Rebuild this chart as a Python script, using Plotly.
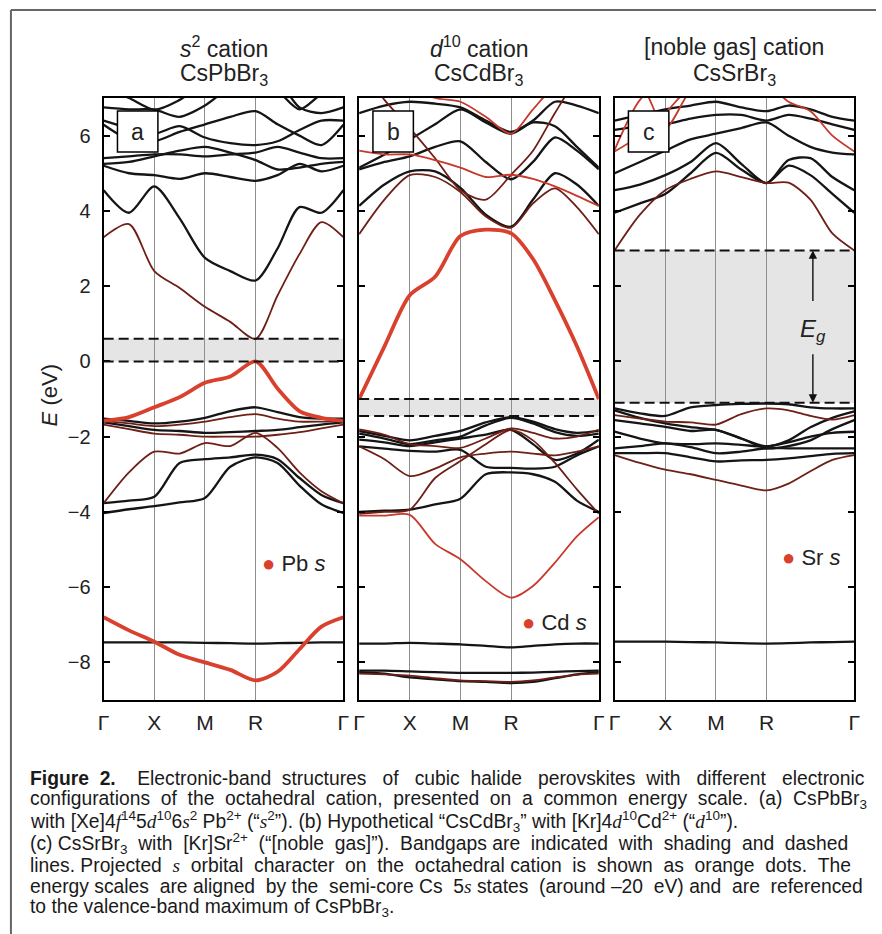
import plotly.graph_objects as go

# ---------------- data ----------------
# k-path segment lengths (units of 2*pi/a): Γ-X, X-M, M-R, R-Γ
SEG_LEN = [0.5, 0.5, 0.5, 0.866]
K_LABELS = ["Γ", "X", "M", "R", "Γ"]
# sampling fractions along each segment
SEG_FRACS = [[0.0, 0.5, 1.0], [0.5, 1.0], [0.5, 1.0], [0.25, 0.5, 0.75, 1.0]]

E_TICKS = [-8, -6, -4, -2, 0, 2, 4, 6]
E_TICK_TEXT = ["−8", "−6", "−4", "−2", "0", "2", "4", "6"]
E_RANGE = [-9, 7]

# band energies (eV) at the sampled k-points: Γ, .25, X, .75, M, 1.25, R, R+¼, R+½, R+¾, Γ
# character: b = no s, m = weak s, t = moderate s, s = strong s
PB_BANDS = [
    [3.30, 3.65, 2.40, 1.95, 1.45, 1.05, 0.60, 1.75, 2.85, 3.70, 3.30],
    [4.55, 3.95, 4.65, 3.80, 2.75, 2.40, 2.15, 3.00, 4.10, 3.95, 4.55],
    [5.20, 5.00, 4.95, 4.85, 5.00, 4.90, 4.80, 4.95, 5.25, 5.05, 5.20],
    [5.25, 5.30, 5.45, 5.60, 5.70, 5.55, 5.35, 5.10, 5.15, 5.25, 5.30],
    [5.40, 5.45, 5.50, 5.50, 5.45, 5.50, 5.55, 5.70, 5.55, 5.40, 5.40],
    [6.29, 5.90, 5.85, 6.10, 6.30, 6.50, 6.65, 6.30, 6.00, 5.75, 6.29],
    [6.40, 6.20, 6.05, 6.25, 5.95, 5.80, 5.75, 5.85, 6.15, 6.40, 6.40],
    [6.75, 6.70, 6.69, 6.50, 6.80, 7.30, 7.60, 7.20, 6.70, 7.10, 7.30],
    [7.30, 7.00, 6.69, 6.95, 7.40, 7.60, 7.80, 7.50, 6.75, 6.60, 6.75],
    [-1.52, -1.58, -1.65, -1.60, -1.50, -1.32, -1.22, -1.35, -1.48, -1.52, -1.52],
    [-1.58, -1.65, -1.72, -1.68, -1.60, -1.48, -1.40, -1.52, -1.60, -1.60, -1.58],
    [-1.62, -1.72, -1.82, -1.85, -1.90, -1.88, -1.85, -1.82, -1.75, -1.68, -1.62],
    [-1.68, -1.80, -1.92, -1.95, -2.00, -2.00, -2.00, -1.95, -1.88, -1.78, -1.68],
    [-3.77, -2.95, -2.40, -2.45, -2.17, -2.25, -1.90, -2.30, -2.95, -3.45, -3.77],
    [-3.77, -3.70, -3.60, -2.70, -2.60, -2.55, -2.48, -2.60, -3.10, -3.55, -3.77],
    [-4.03, -3.93, -3.85, -3.75, -3.63, -2.80, -2.55, -2.70, -3.30, -3.80, -4.03],
    [-7.47, -7.47, -7.47, -7.47, -7.48, -7.49, -7.50, -7.49, -7.48, -7.47, -7.47],
    [-1.58, -1.48, -1.22, -0.95, -0.57, -0.40, 0.00, -0.72, -1.32, -1.50, -1.58],
    [-6.80, -7.15, -7.45, -7.80, -8.00, -8.20, -8.48, -8.25, -7.65, -7.05, -6.80],
]
PB_CHAR = ["m", "b", "b", "b", "b", "b", "b", "b", "b",
           "b", "m", "b", "m", "m", "b", "b", "b", "s", "s"]

CD_BANDS = [
    [3.38, 4.30, 4.95, 4.90, 4.50, 3.85, 3.55, 4.20, 4.60, 4.10, 3.38],
    [4.13, 4.70, 5.05, 5.05, 4.61, 3.90, 3.58, 4.30, 5.00, 4.70, 4.13],
    [5.10, 5.30, 5.45, 5.70, 5.85, 5.30, 4.84, 5.30, 5.95, 5.60, 5.10],
    [5.15, 5.50, 5.90, 6.30, 6.70, 6.35, 6.05, 6.35, 6.25, 5.70, 5.15],
    [6.60, 6.80, 6.90, 6.85, 6.75, 6.40, 6.10, 6.40, 6.90, 6.80, 6.60],
    [5.60, 5.50, 5.50, 5.35, 5.15, 4.90, 4.96, 4.85, 4.65, 4.40, 4.13],
    [7.90, 6.95, 6.20, 5.40, 4.55, 4.30, 4.96, 5.60, 6.60, 7.50, 8.00],
    [7.50, 7.40, 7.30, 7.00, 6.90, 6.50, 6.05, 6.70, 7.30, 7.40, 7.50],
    [-1.85, -1.98, -2.10, -1.98, -1.85, -1.62, -1.48, -1.60, -1.80, -1.90, -1.85],
    [-1.92, -2.05, -2.20, -2.10, -2.00, -1.70, -1.50, -1.65, -1.88, -1.98, -1.92],
    [-1.81, -1.95, -2.20, -2.25, -2.30, -2.05, -1.78, -1.90, -2.05, -2.00, -1.81],
    [-2.08, -2.15, -2.25, -2.15, -2.05, -1.95, -1.82, -2.20, -2.62, -2.45, -2.08],
    [-2.26, -2.32, -2.38, -2.40, -2.35, -2.80, -2.83, -2.85, -2.80, -2.50, -2.26],
    [-2.26, -2.60, -3.05, -2.85, -2.55, -2.45, -2.40, -2.45, -2.50, -2.40, -2.26],
    [-4.05, -4.00, -3.94, -3.10, -2.65, -2.20, -1.82, -2.10, -2.70, -3.40, -4.05],
    [-4.00, -3.97, -3.94, -3.80, -3.65, -3.00, -2.95, -3.00, -3.20, -3.70, -4.00],
    [-7.50, -7.50, -7.48, -7.50, -7.52, -7.56, -7.60, -7.56, -7.52, -7.50, -7.50],
    [-8.22, -8.22, -8.24, -8.26, -8.28, -8.28, -8.28, -8.27, -8.25, -8.23, -8.22],
    [-8.26, -8.30, -8.40, -8.45, -8.50, -8.52, -8.55, -8.52, -8.42, -8.32, -8.26],
    [-8.30, -8.32, -8.35, -8.42, -8.48, -8.50, -8.52, -8.48, -8.40, -8.33, -8.30],
    [-1.00, 0.40, 1.76, 2.25, 3.33, 3.50, 3.40, 2.72, 1.62, 0.40, -1.00],
    [-4.10, -4.10, -4.08, -4.85, -5.26, -5.84, -6.28, -5.97, -5.35, -4.65, -4.14],
]
CD_CHAR = ["m", "b", "b", "b", "b", "t", "m", "t",
           "b", "b", "m", "b", "b", "m", "m", "b", "b", "b", "b", "m", "s", "t"]

SR_BANDS = [
    [2.95, 3.90, 4.55, 4.85, 5.05, 4.90, 4.74, 4.75, 4.30, 3.40, 2.95],
    [3.95, 4.20, 4.45, 5.00, 5.54, 5.10, 4.74, 5.20, 4.95, 4.45, 3.95],
    [4.55, 4.70, 4.95, 5.30, 5.80, 5.25, 4.74, 5.35, 5.40, 4.90, 4.55],
    [5.00, 5.30, 5.60, 5.90, 6.05, 6.20, 6.35, 6.00, 5.70, 5.55, 5.50],
    [6.15, 6.25, 6.30, 6.45, 6.55, 6.55, 6.40, 6.55, 6.45, 6.30, 6.15],
    [6.40, 6.55, 6.70, 6.80, 6.90, 6.75, 6.65, 6.80, 6.70, 6.50, 6.40],
    [5.58, 6.00, 6.60, 7.30, 7.60, 7.60, 7.40, 6.90, 6.65, 6.00, 5.58],
    [5.62, 6.95, 7.50, 7.50, 7.50, 7.50, 7.50, 7.50, 7.50, 7.50, 7.50],
    [7.50, 7.40, 6.20, 7.20, 7.60, 7.60, 7.60, 7.60, 7.60, 7.60, 7.60],
    [-1.25, -1.38, -1.45, -1.22, -1.16, -1.13, -1.12, -1.14, -1.22, -1.25, -1.25],
    [-1.30, -1.50, -1.65, -1.75, -1.82, -2.05, -2.26, -2.10, -1.75, -1.50, -1.33],
    [-1.43, -1.52, -1.60, -1.62, -1.68, -1.40, -1.25, -1.30, -1.45, -1.55, -1.43],
    [-1.56, -1.65, -1.74, -1.85, -1.82, -2.05, -2.31, -2.25, -2.10, -1.80, -1.56],
    [-1.87, -2.05, -2.18, -2.20, -2.18, -2.22, -2.26, -2.15, -2.00, -1.90, -1.87],
    [-2.31, -2.25, -2.18, -2.28, -2.44, -2.40, -2.31, -2.31, -2.31, -2.31, -2.31],
    [-2.44, -2.44, -2.44, -2.55, -2.66, -2.63, -2.62, -2.58, -2.52, -2.46, -2.44],
    [-7.45, -7.45, -7.45, -7.46, -7.47, -7.49, -7.50, -7.49, -7.47, -7.46, -7.45],
    [-2.49, -2.70, -2.88, -3.00, -3.15, -3.30, -3.43, -3.25, -2.92, -2.62, -2.49],
]
SR_CHAR = ["m", "b", "b", "b", "b", "b", "t", "t", "t",
           "b", "b", "m", "b", "b", "b", "b", "b", "m"]

# band gaps (VBM, CBM) in eV
GAPS = [(0.0, 0.6), (-1.45, -1.0), (-1.1, 2.95)]

TITLE1 = ["<i>s</i><sup>2</sup> cation", "<i>d</i><sup>10</sup> cation", "[noble gas] cation"]
TITLE2 = ["CsPbBr<sub>3</sub>", "CsCdBr<sub>3</sub>", "CsSrBr<sub>3</sub>"]
PANEL_TAGS = ["a", "b", "c"]
LEGEND_TXT = ["Pb <i>s</i>", "Cd <i>s</i>", "Sr <i>s</i>"]


def si(ch):
    return '<span style="font-family:Liberation Serif"><i>' + ch + '</i></span>'


CAPTION = [
    "<b>Figure 2.</b>\u00a0 Electronic-band structures of cubic halide perovskites with different electronic",
    "configurations of the octahedral cation, presented on a common energy scale. (a) CsPbBr<sub>3</sub>",
    "with [Xe]4" + si("f") + "<sup>14</sup>5" + si("d") + "<sup>10</sup>6" + si("s") + "<sup>2</sup> Pb<sup>2+</sup> (“"
    + si("s") + "<sup>2</sup>”). (b) Hypothetical “CsCdBr<sub>3</sub>” with [Kr]4" + si("d") + "<sup>10</sup>Cd<sup>2+</sup> (“"
    + si("d") + "<sup>10</sup>”).",
    "(c) CsSrBr<sub>3</sub> with [Kr]Sr<sup>2+</sup> (“[noble gas]”). Bandgaps are indicated with shading and dashed",
    "lines. Projected " + si("s") + " orbital character on the octahedral cation is shown as orange dots. The",
    "energy scales are aligned by the semi-core Cs 5" + si("s") + " states (around –20 eV) and are referenced",
    "to the valence-band maximum of CsPbBr<sub>3</sub>.",
]
# right edge (px) each caption line is justified to (None = ragged)
CAPTION_RIGHT = [860, 860, None, 840, 846, 858, None]

# ---------------- derived k grid ----------------
K = []
K_TICKS = [0.0]
start = 0.0
for L, fr in zip(SEG_LEN, SEG_FRACS):
    for f in fr:
        K.append(start + f * L)
    start += L
    K_TICKS.append(start)
K_END = start

# ---------------- text metrics (Arial/Liberation Sans, per 1000 em) ----------------
_W = {" ": 278, "\u00a0": 278, "!": 278, '"': 355, "(": 333, ")": 333, ",": 278, "-": 333,
      ".": 278, "/": 278, ":": 278, ";": 278, "[": 278, "]": 278, "–": 556, "“": 333,
      "”": 333, "+": 584, "’": 222}
for _c in "0123456789":
    _W[_c] = 556
for _c, _v in zip("ABCDEFGHIJKLMNOPQRSTUVWXYZ",
                  [667, 667, 722, 722, 667, 611, 778, 722, 278, 500, 667, 556, 833, 722, 778, 667,
                   778, 722, 667, 611, 722, 667, 944, 667, 667, 611]):
    _W[_c] = _v
for _c, _v in zip("abcdefghijklmnopqrstuvwxyz",
                  [556, 556, 500, 556, 556, 278, 556, 556, 222, 222, 500, 222, 833, 556, 556, 556,
                   556, 333, 500, 278, 556, 500, 722, 500, 500, 500]):
    _W[_c] = _v
_WB = {"F": 611, "i": 278, "g": 611, "u": 611, "r": 389, "e": 556, "2": 556, ".": 278, " ": 278}
_WS = {"f": 278, "d": 500, "s": 389}


def measure(html, fs):
    w, i, bold, serif, scale = 0.0, 0, False, False, 1.0
    while i < len(html):
        if html[i] == "<":
            j = html.index(">", i)
            tag = html[i + 1:j]
            if tag == "b":
                bold = True
            elif tag == "/b":
                bold = False
            elif tag in ("sub", "sup"):
                scale = 0.7
            elif tag in ("/sub", "/sup"):
                scale = 1.0
            elif tag.startswith("span") and "Serif" in tag:
                serif = True
            elif tag == "/span":
                serif = False
            i = j + 1
            continue
        ch = html[i]
        if serif and ch in _WS:
            cw = _WS[ch]
        elif bold and ch in _WB:
            cw = _WB[ch]
        else:
            cw = _W.get(ch, 556)
        w += cw * scale
        i += 1
    return w * fs / 1000.0


def justify(html, fs, width):
    gaps, depth = [], 0
    for idx, ch in enumerate(html):
        if ch == "<":
            depth += 1
        elif ch == ">":
            depth -= 1
        elif ch == " " and depth == 0:
            gaps.append(idx)
    extra = width - measure(html, fs)
    n_add = max(0, int(round(extra / (0.278 * fs))))
    if not gaps or n_add == 0:
        return html
    add = {}
    for g in range(len(gaps)):
        add[gaps[g]] = (g + 1) * n_add // len(gaps) - g * n_add // len(gaps)
    out = []
    for idx, ch in enumerate(html):
        out.append(ch)
        if idx in add and add[idx]:
            out.append("\u00a0" * add[idx])
    return "".join(out)


# ---------------- styling ----------------
W, H = 882, 934
FONT = "Liberation Sans, Arial, sans-serif"
RED = "#d9412e"
STYLE = {
    "b": dict(color="#151515", width=2.3),
    "m": dict(color="#6e1f16", width=1.8),
    "t": dict(color="#c8392b", width=1.8),
    "s": dict(color=RED, width=3.8),
}
ORDER = {"b": 0, "m": 1, "t": 2, "s": 3}
PANEL_X = [(99, 342), (358, 601), (617, 860)]
PANEL_Y = (98, 700)
CAP_X0, CAP_FS = 22, 19.3
CAP_BASE0, CAP_DY = 785, 21.7


def fx(x):
    return x / W


def fy(y):
    return 1 - y / H


fig = go.Figure()
shapes = []
annotations = []

for i, (bands, chars) in enumerate([(PB_BANDS, PB_CHAR), (CD_BANDS, CD_CHAR), (SR_BANDS, SR_CHAR)]):
    sfx = "" if i == 0 else str(i + 1)
    order = sorted(range(len(bands)), key=lambda j: ORDER[chars[j]])
    for j in order:
        fig.add_trace(go.Scatter(
            x=K, y=bands[j], mode="lines", xaxis="x" + sfx, yaxis="y" + sfx,
            line=dict(shape="spline", smoothing=0.8, **STYLE[chars[j]]),
            hoverinfo="skip", showlegend=False))
    x0, x1 = PANEL_X[i]
    fig.layout["xaxis" + sfx] = dict(
        domain=[fx(x0), fx(x1)], range=[0, K_END], tickvals=K_TICKS, ticktext=K_LABELS,
        showgrid=True, gridcolor="#8e8e8e", gridwidth=1, zeroline=False,
        showline=True, mirror=True, linecolor="black", linewidth=2, ticks="",
        ticklabelstandoff=3,
        tickfont=dict(family=FONT, size=21, color="#222"), anchor="y" + sfx)
    fig.layout["yaxis" + sfx] = dict(
        domain=[fy(PANEL_Y[1]), fy(PANEL_Y[0])], range=E_RANGE, tickvals=E_TICKS,
        ticktext=E_TICK_TEXT, ticks="inside", ticklen=6, tickwidth=1.5, tickcolor="black",
        mirror="ticks", showline=True, linecolor="black", linewidth=2, showgrid=False,
        zeroline=False, showticklabels=(i == 0), ticklabelstandoff=7,
        tickfont=dict(family=FONT, size=20, color="#222"), anchor="x" + sfx)

    vbm, cbm = GAPS[i]
    shapes.append(dict(type="rect", xref="x" + sfx + " domain", yref="y" + sfx, x0=0, x1=1,
                       y0=vbm, y1=cbm, fillcolor="#e5e5e5", line=dict(width=0), layer="below"))
    for e in (vbm, cbm):
        shapes.append(dict(type="line", xref="x" + sfx + " domain", yref="y" + sfx, x0=0, x1=1,
                           y0=e, y1=e, line=dict(color="#111", width=2, dash="10px,5px"), layer="above"))

    # panel tag box
    bx0 = x0 + 14
    shapes.append(dict(type="rect", xref="paper", yref="paper", x0=fx(bx0), x1=fx(bx0 + 41),
                       y0=fy(152), y1=fy(111), fillcolor="white",
                       line=dict(color="black", width=1.5), layer="above"))
    annotations.append(dict(xref="paper", yref="paper", x=fx(bx0 + 20.5), y=fy(131.5),
                            text=PANEL_TAGS[i], showarrow=False, xanchor="center", yanchor="middle",
                            font=dict(family=FONT, size=23, color="#222")))
    # titles
    cx = (x0 + x1) / 2
    annotations.append(dict(xref="paper", yref="paper", x=fx(cx), y=fy(47), text=TITLE1[i],
                            showarrow=False, xanchor="center", yanchor="middle",
                            font=dict(family=FONT, size=23, color="#222")))
    annotations.append(dict(xref="paper", yref="paper", x=fx(cx), y=fy(74), text=TITLE2[i],
                            showarrow=False, xanchor="center", yanchor="middle",
                            font=dict(family=FONT, size=23, color="#222")))

# legend labels (red dot + orbital)
LEG_POS = [(258, 563), (521, 622), (785, 557)]
for i, (lx, ly) in enumerate(LEG_POS):
    annotations.append(dict(xref="paper", yref="paper", x=fx(lx), y=fy(ly),
                            text='<span style="color:' + RED + '">●</span> ' + LEGEND_TXT[i],
                            showarrow=False, xanchor="left", yanchor="middle",
                            font=dict(family=FONT, size=22, color="#222")))

# E_g arrows in panel c
kx = (818 - PANEL_X[2][0]) / (PANEL_X[2][1] - PANEL_X[2][0]) * K_END
vbm, cbm = GAPS[2]
annotations.append(dict(xref="x3", yref="y3", x=kx, y=cbm, ax=0, ay=52, text="",
                        showarrow=True, arrowhead=2, arrowsize=1.2, arrowwidth=1.4, arrowcolor="#111"))
annotations.append(dict(xref="x3", yref="y3", x=kx, y=vbm, ax=0, ay=-50, text="",
                        showarrow=True, arrowhead=2, arrowsize=1.2, arrowwidth=1.4, arrowcolor="#111"))
annotations.append(dict(xref="x3", yref="paper", x=kx, y=fy(330),
                        text="<i>E<sub>g</sub></i>", showarrow=False, xanchor="center", yanchor="middle",
                        font=dict(family=FONT, size=24, color="#222")))

# y-axis title
annotations.append(dict(xref="paper", yref="paper", x=fx(44), y=fy(395), text="<i>E</i> (eV)",
                        textangle=-90, showarrow=False, xanchor="center", yanchor="middle",
                        font=dict(family=FONT, size=22, color="#222")))

# caption (justified lines)
for n, line in enumerate(CAPTION):
    txt = line if CAPTION_RIGHT[n] is None else justify(line, CAP_FS, CAPTION_RIGHT[n] - CAP_X0)
    base = CAP_BASE0 + n * CAP_DY
    annotations.append(dict(xref="paper", yref="paper", x=fx(CAP_X0), y=fy(base - 0.35 * CAP_FS),
                            text=txt, showarrow=False, xanchor="left", yanchor="middle",
                            font=dict(family=FONT, size=CAP_FS, color="#1a1a1a")))

# outer frame (top and left rules)
shapes.append(dict(type="line", xref="paper", yref="paper", x0=fx(5), x1=1, y0=fy(10), y1=fy(10),
                   line=dict(color="#666", width=2)))
shapes.append(dict(type="line", xref="paper", yref="paper", x0=fx(5), x1=fx(5), y0=fy(10), y1=0,
                   line=dict(color="#666", width=2)))

fig.update_layout(width=W, height=H, margin=dict(l=0, r=0, t=0, b=0), autosize=False,
                  paper_bgcolor="white", plot_bgcolor="white", shapes=shapes,
                  annotations=annotations, font=dict(family=FONT))
fig.write_html("out.html", config={"displayModeBar": False},
               post_script="document.body.style.margin='0px';document.body.style.padding='0px';")
